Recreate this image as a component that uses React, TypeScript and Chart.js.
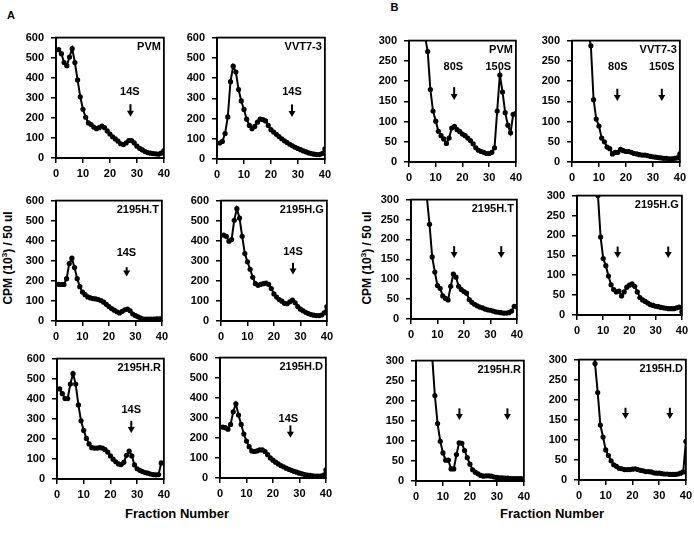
import React, { useEffect, useRef } from "react";
import { Chart, registerables } from "chart.js";

Chart.register(...registerables);

const FONT = "'Liberation Sans', Arial, Helvetica, sans-serif";

// ---------- data ----------
const fractions = [1, 2, 3, 4, 5, 6, 7, 8, 9, 10, 11, 12, 13, 14, 15, 16, 17, 18, 19, 20, 21, 22, 23, 24, 25, 26, 27, 28, 29, 30, 31, 32, 33, 34, 35, 36, 37, 38, 39, 40];

const xTickValues = [0, 10, 20, 30, 40];
const yTicksA = [0, 100, 200, 300, 400, 500, 600];
const yTicksB = [0, 50, 100, 150, 200, 250, 300];

// Panel A (0-600)
const pvmA = [540, 520, 476, 460, 503, 545, 476, 389, 305, 243, 203, 175, 167, 154, 146, 151, 159, 151, 135, 119, 106, 95, 84, 71, 67, 75, 87, 87, 75, 59, 48, 40, 32, 27, 24, 22, 21, 19, 24, 37];
const vvtA = [79, 87, 126, 208, 382, 459, 430, 343, 287, 245, 197, 166, 150, 161, 182, 197, 195, 188, 166, 145, 133, 122, 111, 100, 90, 81, 73, 65, 58, 52, 46, 40, 35, 30, 27, 24, 22, 22, 27, 50];
const tA = [183, 182, 182, 211, 286, 313, 266, 211, 171, 144, 131, 120, 115, 112, 110, 107, 102, 94, 83, 72, 62, 54, 46, 40, 48, 56, 59, 51, 35, 27, 21, 14, 10, 10, 10, 10, 10, 11, 11, 12];
const gA = [428, 422, 398, 406, 502, 560, 513, 422, 336, 295, 258, 218, 186, 178, 183, 186, 189, 183, 162, 135, 119, 107, 99, 88, 86, 96, 104, 91, 72, 59, 51, 43, 37, 32, 29, 27, 27, 30, 40, 72];
const rA = [449, 425, 401, 401, 473, 525, 473, 369, 290, 242, 202, 175, 156, 154, 154, 156, 154, 146, 134, 115, 99, 86, 75, 72, 83, 118, 139, 115, 70, 51, 43, 37, 32, 29, 25, 22, 21, 22, 80, null];
const dA = [254, 251, 243, 267, 330, 370, 314, 267, 219, 184, 156, 135, 132, 135, 140, 140, 132, 116, 100, 89, 79, 70, 62, 56, 49, 43, 38, 33, 29, 24, 21, 17, 14, 13, 11, 10, 10, 10, 13, 41];

// Panel B (0-300)
const pvmB = [null, null, null, null, null, 310, 273, 179, 126, 101, 76, 65, 57, 46, 59, 84, 88, 80, 75, 69, 65, 59, 53, 45, 35, 29, 26, 24, 21, 21, 24, 35, 126, 215, 173, 122, 91, 72, 118, 120];
const vvtB = [null, null, null, null, null, 320, 287, 154, 106, 89, 59, 50, 37, 33, 20, 24, 24, 31, 28, 26, 26, 24, 21, 20, 18, 17, 17, 16, 14, 13, 12, 11, 10, 9, 9, 8, 8, 9, 10, 20];
const tB = [null, null, null, null, null, 305, 238, 156, 118, 84, 77, 58, 52, 48, 82, 113, 105, 82, 74, 69, 65, 49, 42, 37, 33, 30, 28, 25, 23, 22, 20, 18, 17, 16, 15, 15, 16, 20, 32, 30];
const gB = [null, null, null, null, null, null, null, 300, 196, 142, 124, 98, 76, 64, 58, 60, 48, 58, 70, 75, 78, 72, 58, 44, 38, 34, 30, 26, 24, 22, 21, 19, 18, 17, 16, 16, 16, 18, 20, 8];
const rB = [null, null, null, null, null, 310, 213, 143, 99, 70, 52, 52, 30, 30, 66, 95, 94, 76, 58, 42, 28, 22, 18, 14, 12, 13, 13, 12, 10, 9, 8, 8, 7, 7, 6, 6, 6, 6, 6, 3];
const dB = [null, null, null, null, 450, 290, 218, 137, 107, 75, 61, 48, 38, 34, 29, 28, 26, 26, 26, 27, 28, 26, 24, 23, 21, 21, 20, 18, 17, 17, 16, 15, 15, 14, 14, 14, 15, 17, 20, 96];

// annotations (data units)
const labelsPvmA = [{ text: "14S", x: 27.4, y: 330 }];
const arrowsPvmA = [{ x: 27.6, top: 268, tip: 205 }];
const labelsVvtA = [{ text: "14S", x: 27.8, y: 330 }];
const arrowsVvtA = [{ x: 27.8, top: 270, tip: 207 }];
const labelsTA = [{ text: "14S", x: 26.6, y: 337 }];
const arrowsTA = [{ x: 26.7, top: 268, tip: 222 }];
const labelsGA = [{ text: "14S", x: 27.2, y: 343 }];
const arrowsGA = [{ x: 27.2, top: 290, tip: 232 }];
const labelsRA = [{ text: "14S", x: 27.8, y: 345 }];
const arrowsRA = [{ x: 27.8, top: 290, tip: 229 }];
const labelsDA = [{ text: "14S", x: 25.8, y: 296 }];
const arrowsDA = [{ x: 26.6, top: 262, tip: 200 }];

const labelsPvmB = [{ text: "80S", x: 16.6, y: 235 }, { text: "150S", x: 33.4, y: 235 }];
const arrowsPvmB = [{ x: 16.9, top: 185, tip: 153 }];
const labelsVvtB = [{ text: "80S", x: 17, y: 235 }, { text: "150S", x: 33.3, y: 235 }];
const arrowsVvtB = [{ x: 16.8, top: 181, tip: 151 }, { x: 33.3, top: 181, tip: 151 }];
const arrowsTB = [{ x: 16.3, top: 183, tip: 153 }, { x: 34.1, top: 183, tip: 153 }];
const arrowsGB = [{ x: 15.5, top: 172, tip: 143 }, { x: 34.8, top: 172, tip: 143 }];
const arrowsRB = [{ x: 16.1, top: 181, tip: 152 }, { x: 33.9, top: 181, tip: 152 }];
const arrowsDB = [{ x: 17.4, top: 180, tip: 152 }, { x: 34, top: 180, tip: 152 }];

// ---------- layout ----------
const AX_W = 45;
const AX_H = 24;
const PAD_T = 8;
const PAD_R = 8;

type Ann = { text: string; x: number; y: number };
type Arrow = { x: number; top: number; tip: number };
type PanelCfg = {
  title: string;
  values: (number | null)[];
  yTicks: number[];
  labels: Ann[];
  arrows: Arrow[];
  rect: [number, number, number, number];
};

const panels: PanelCfg[] = [
  { title: "PVM", values: pvmA, yTicks: yTicksA, labels: labelsPvmA, arrows: arrowsPvmA, rect: [56, 32, 166, 158] },
  { title: "VVT7-3", values: vvtA, yTicks: yTicksA, labels: labelsVvtA, arrows: arrowsVvtA, rect: [217, 32, 327, 159] },
  { title: "PVM", values: pvmB, yTicks: yTicksB, labels: labelsPvmB, arrows: arrowsPvmB, rect: [409, 35, 518, 162] },
  { title: "VVT7-3", values: vvtB, yTicks: yTicksB, labels: labelsVvtB, arrows: arrowsVvtB, rect: [572, 35, 682, 162] },
  { title: "2195H.T", values: tA, yTicks: yTicksA, labels: labelsTA, arrows: arrowsTA, rect: [56, 195, 164, 321] },
  { title: "2195H.G", values: gA, yTicks: yTicksA, labels: labelsGA, arrows: arrowsGA, rect: [221, 195, 329, 321] },
  { title: "2195H.T", values: tB, yTicks: yTicksB, labels: [], arrows: arrowsTB, rect: [411, 194, 519, 319] },
  { title: "2195H.G", values: gB, yTicks: yTicksB, labels: [], arrows: arrowsGB, rect: [577, 190, 684, 315] },
  { title: "2195H.R", values: rA, yTicks: yTicksA, labels: labelsRA, arrows: arrowsRA, rect: [57, 353, 166, 479] },
  { title: "2195H.D", values: dA, yTicks: yTicksA, labels: labelsDA, arrows: arrowsDA, rect: [220, 352, 328, 478] },
  { title: "2195H.R", values: rB, yTicks: yTicksB, labels: [], arrows: arrowsRB, rect: [416, 355, 526, 481] },
  { title: "2195H.D", values: dB, yTicks: yTicksB, labels: [], arrows: arrowsDB, rect: [579, 354, 688, 480] },
];

const decorPlugin = {
  id: "panelDecor",
  afterDatasetsDraw(chart: any, _args: any, opts: any) {
    const { ctx, chartArea: a, scales } = chart;
    const xs = scales.x;
    const ys = scales.y;
    ctx.save();
    ctx.strokeStyle = "#000";
    ctx.lineWidth = 1.8;
    ctx.strokeRect(a.left, a.top, a.right - a.left, a.bottom - a.top);
    ctx.fillStyle = "#000";
    ctx.font = `bold 11px "Liberation Sans", Arial, sans-serif`;
    ctx.textAlign = "right";
    ctx.textBaseline = "middle";
    ctx.fillText(opts.title, a.right - 3, a.top + 9);
    ctx.textAlign = "center";
    for (const l of opts.labels as Ann[]) {
      ctx.fillText(l.text, xs.getPixelForValue(l.x), ys.getPixelForValue(l.y));
    }
    for (const ar of opts.arrows as Arrow[]) {
      const px = xs.getPixelForValue(ar.x);
      const y1 = ys.getPixelForValue(ar.top);
      const y2 = ys.getPixelForValue(ar.tip);
      ctx.lineWidth = 2;
      ctx.beginPath();
      ctx.moveTo(px, y1);
      ctx.lineTo(px, y2 - 4);
      ctx.stroke();
      ctx.beginPath();
      ctx.moveTo(px - 3.5, y2 - 6);
      ctx.lineTo(px + 3.5, y2 - 6);
      ctx.lineTo(px, y2);
      ctx.closePath();
      ctx.fill();
    }
    ctx.restore();
  },
};

function Panel({ cfg }: { cfg: PanelCfg }) {
  const ref = useRef<HTMLCanvasElement | null>(null);
  const [L, T, R, B] = cfg.rect;
  const width = R - L + AX_W + PAD_R;
  const height = B - T + PAD_T + AX_H;

  useEffect(() => {
    const canvas = ref.current;
    if (!canvas) return;
    const yMax = cfg.yTicks[cfg.yTicks.length - 1];
    const yStep = cfg.yTicks[1] - cfg.yTicks[0];
    const xMax = xTickValues[xTickValues.length - 1];
    const xStep = xTickValues[1] - xTickValues[0];
    const tickFont = { family: FONT, size: 11, weight: "bold" as const };
    const chart = new Chart(canvas, {
      type: "line",
      data: {
        datasets: [
          {
            data: fractions.map((f, i) => ({ x: f, y: cfg.values[i] as any })),
            borderColor: "#000",
            backgroundColor: "#000",
            borderWidth: 2,
            pointRadius: 2.6,
            pointHoverRadius: 2.6,
            pointBackgroundColor: "#000",
            pointBorderWidth: 0,
            tension: 0,
            spanGaps: false,
          },
        ],
      },
      options: {
        animation: false,
        responsive: false,
        events: [],
        layout: { padding: { top: PAD_T, right: PAD_R, left: 0, bottom: 0 } },
        plugins: {
          legend: { display: false },
          tooltip: { enabled: false },
          panelDecor: { title: cfg.title, labels: cfg.labels, arrows: cfg.arrows },
        } as any,
        scales: {
          x: {
            type: "linear",
            min: 0,
            max: xMax,
            afterFit: (s: any) => {
              s.height = AX_H;
            },
            ticks: { stepSize: xStep, font: tickFont, color: "#000", padding: 4, maxRotation: 0, autoSkip: false },
            grid: { drawOnChartArea: false, drawTicks: true, tickLength: 5, color: "#000", lineWidth: 1.5 },
            border: { display: true, color: "#000", width: 1.8 },
          },
          y: {
            type: "linear",
            min: 0,
            max: yMax,
            afterFit: (s: any) => {
              s.width = AX_W;
            },
            ticks: { stepSize: yStep, font: tickFont, color: "#000", padding: 7, autoSkip: false },
            grid: { drawOnChartArea: false, drawTicks: true, tickLength: 5, color: "#000", lineWidth: 1.5 },
            border: { display: true, color: "#000", width: 1.8 },
          },
        },
      },
      plugins: [decorPlugin],
    });
    return () => chart.destroy();
  }, [cfg]);

  return (
    <canvas
      ref={ref}
      width={width}
      height={height}
      style={{ position: "absolute", left: L - AX_W, top: T - PAD_T, width, height }}
    />
  );
}

const textBase: React.CSSProperties = {
  position: "absolute",
  fontFamily: FONT,
  fontWeight: "bold",
  color: "#000",
  whiteSpace: "nowrap",
  lineHeight: 1,
};

function YLabel({ cx, cy }: { cx: number; cy: number }) {
  return (
    <div
      style={{
        ...textBase,
        fontSize: 12,
        left: cx,
        top: cy,
        transform: "translate(-50%, -50%) rotate(-90deg)",
      }}
    >
      CPM (10<sup style={{ fontSize: 8, verticalAlign: "super", lineHeight: 0 }}>3</sup>) / 50 ul
    </div>
  );
}

function XLabel({ cx, cy }: { cx: number; cy: number }) {
  return (
    <div style={{ ...textBase, fontSize: 13, left: cx, top: cy, transform: "translate(-50%, -50%)" }}>
      Fraction Number
    </div>
  );
}

export default function App() {
  return (
    <div
      style={{
        position: "absolute",
        left: 0,
        top: 0,
        width: 694,
        height: 533,
        overflow: "hidden",
        background: "#fff",
      }}
    >
      <div style={{ ...textBase, fontSize: 11, left: 7, top: 9.5 }}>A</div>
      <div style={{ ...textBase, fontSize: 11, left: 390.5, top: 2 }}>B</div>
      <YLabel cx={8} cy={258} />
      <YLabel cx={367} cy={258} />
      <XLabel cx={177} cy={513} />
      <XLabel cx={552} cy={513} />
      {panels.map((p, i) => (
        <Panel key={i} cfg={p} />
      ))}
    </div>
  );
}
